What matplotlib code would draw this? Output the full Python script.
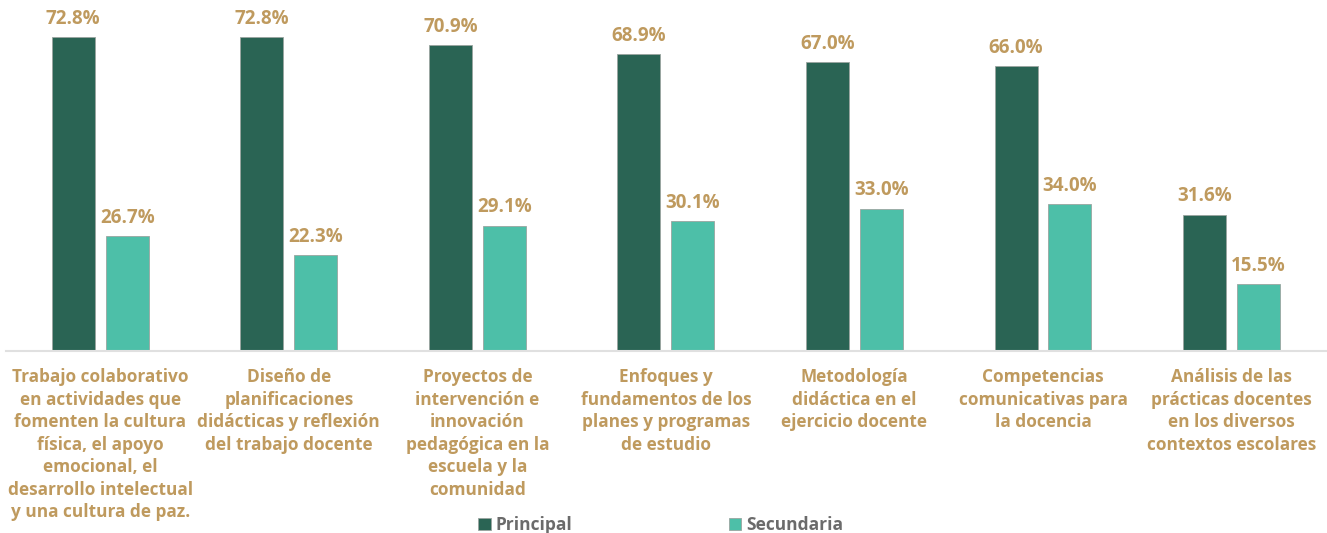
import matplotlib
matplotlib.use("Agg")
import matplotlib.pyplot as plt
import numpy as np

CATEGORIES = [
    "Trabajo colaborativo\nen actividades que\nfomenten la cultura\nfísica, el apoyo\nemocional, el\ndesarrollo intelectual\ny una cultura de paz.",
    "Diseño de\nplanificaciones\ndidácticas y reflexión\ndel trabajo docente",
    "Proyectos de\nintervención e\ninnovación\npedagógica en la\nescuela y la\ncomunidad",
    "Enfoques y\nfundamentos de los\nplanes y programas\nde estudio",
    "Metodología\ndidáctica en el\nejercicio docente",
    "Competencias\ncomunicativas para\nla docencia",
    "Análisis de las\nprácticas docentes\nen los diversos\ncontextos escolares",
]
PRINCIPAL = [72.8, 72.8, 70.9, 68.9, 67.0, 66.0, 31.6]
SECUNDARIA = [26.7, 22.3, 29.1, 30.1, 33.0, 34.0, 15.5]

DARK = "#2A6454"
TEAL = "#4DBFA8"
GOLD = "#BF9A5E"
GRAY = "#6B6B6B"

plt.rcParams["font.family"] = ["Open Sans", "DejaVu Sans"]

fig = plt.figure(figsize=(13.27, 5.33), dpi=100)
ax = fig.add_axes([0.0045, 0.3415, 0.9946, 0.647])

x = np.arange(len(CATEGORIES))
w = 0.228
off = 0.143
b1 = ax.bar(x - off, PRINCIPAL, w, color=DARK, edgecolor="#9aa5a0", linewidth=0.6, label="Principal")
b2 = ax.bar(x + off, SECUNDARIA, w, color=TEAL, edgecolor="#9aa5a0", linewidth=0.6, label="Secundaria")

for bars, vals in [(b1, PRINCIPAL), (b2, SECUNDARIA)]:
    for b, v in zip(bars, vals):
        ax.annotate(f"{v:.1f}%", (b.get_x() + b.get_width() / 2, v),
                    xytext=(0, 6), textcoords="offset points", ha="center", va="bottom",
                    color=GOLD, fontsize=13.5, fontweight="bold")

ax.set_xlim(-0.5, len(CATEGORIES) - 0.5)
ax.set_ylim(0, 80)
ax.set_xticks(x)
ax.set_xticklabels(CATEGORIES, color=GOLD, fontsize=12.4, fontweight="bold", linespacing=1.32)
ax.tick_params(axis="x", length=0, pad=12.5)
ax.set_yticks([])
for s in ["top", "right", "left"]:
    ax.spines[s].set_visible(False)
ax.spines["bottom"].set_color("#E0E0E0")
ax.spines["bottom"].set_linewidth(1.5)

leg = fig.legend(handles=[b1, b2], loc="center", bbox_to_anchor=(0.498, 0.015), ncol=2,
                 frameon=False, handlelength=0.7, handleheight=0.7, handletextpad=0.3,
                 columnspacing=9, prop={"weight": "bold", "size": 12.5})
for t in leg.get_texts():
    t.set_color(GRAY)

fig.savefig("out.png", dpi=100)
